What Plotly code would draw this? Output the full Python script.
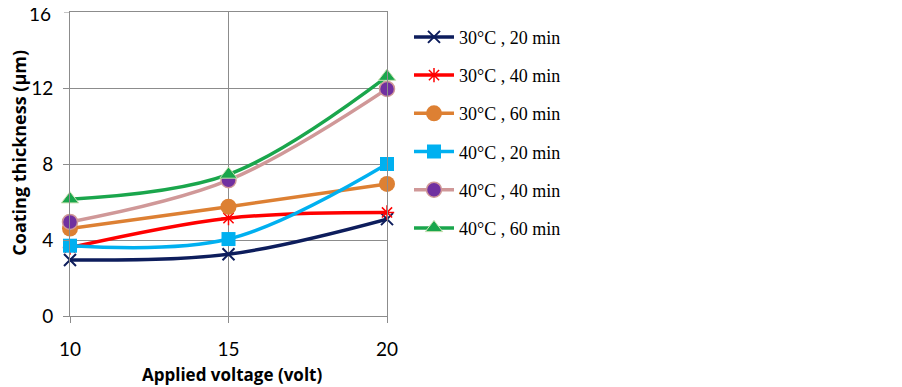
import plotly.graph_objects as go

voltage = [10, 15, 20]
names = ["30°C , 20 min", "30°C , 40 min", "30°C , 60 min",
         "40°C , 20 min", "40°C , 40 min", "40°C , 60 min"]
s_30_20 = [2.95, 3.25, 5.1]
s_30_40 = [3.6, 5.15, 5.45]
s_30_60 = [4.6, 5.75, 6.95]
s_40_20 = [3.7, 4.05, 8.0]
s_40_40 = [4.95, 7.15, 11.95]
s_40_60 = [6.15, 7.45, 12.6]
y_ticks = [0, 4, 8, 12, 16]
y_tick_text = ["0", "4", "8", "12", "16"]
x_ticks = [10, 15, 20]

series = [s_30_20, s_30_40, s_30_60, s_40_20, s_40_40, s_40_60]
styles = [
    dict(line="#0d1d5c", marker=dict(symbol="x-thin", size=12, line=dict(color="#0d1d5c", width=2), color="#0d1d5c")),
    dict(line="#ff0000", marker=dict(symbol="asterisk-open", size=12, line=dict(color="#ff0000", width=1.5), color="#ff0000")),
    dict(line="#dd8033", marker=dict(symbol="circle", size=16, color="#dd8033", line=dict(color="#dd8033", width=0))),
    dict(line="#00b0f0", marker=dict(symbol="square", size=14, color="#00b0f0", line=dict(color="#00b0f0", width=0))),
    dict(line="#d09898", marker=dict(symbol="circle", size=15, color="#7030a0", line=dict(color="#d09898", width=1.5))),
    dict(line="#1aa64c", marker=dict(symbol="triangle-up", size=15, color="#1aa64c", line=dict(color="#c8e0b0", width=1))),
]

fig = go.Figure()
for i, (name, vals, st) in enumerate(zip(names, series, styles)):
    fig.add_trace(go.Scatter(
        x=voltage, y=vals, name=name, mode="lines+markers", legendgroup="g%d" % i,
        line=dict(color=st["line"], width=3.5, shape="spline", smoothing=1),
        marker=st["marker"], cliponaxis=False,
    ))

# top tick label drawn as annotation so it is not dropped at the page edge
top_label = dict(text=y_tick_text[-1], xref="paper", yref="y", x=0, y=y_ticks[-1],
                 xanchor="right", yanchor="middle", xshift=-17, yshift=-1, showarrow=False,
                 font=dict(family="Lato", size=19, color="#000"))

fig.update_layout(
    width=902, height=387,
    margin=dict(l=62, r=523, t=4, b=79, autoexpand=False),
    paper_bgcolor="white", plot_bgcolor="white",
    showlegend=True,
    legend=dict(
        x=1.0694, y=0.978,
        xanchor="left", yanchor="top",
        font=dict(family="Liberation Serif", size=18, color="#000"),
        traceorder="grouped", tracegroupgap=11.8, itemwidth=40,
        bgcolor="rgba(0,0,0,0)",
    ),
    xaxis=dict(
        range=[10, 20], tickvals=x_ticks, showgrid=True, gridcolor="#8c8c8c", gridwidth=1,
        showline=True, mirror=True, linecolor="#8c8c8c", ticks="outside", ticklen=6, tickcolor="#8c8c8c",
        tickfont=dict(family="Lato", size=19, color="#000"), zeroline=False,
        ticklabelstandoff=10,
    ),
    yaxis=dict(
        range=[0, 16], tickvals=y_ticks[:-1], ticktext=y_tick_text[:-1],
        showgrid=True, gridcolor="#8c8c8c", gridwidth=1,
        showline=True, mirror=True, linecolor="#8c8c8c", ticks="outside", ticklen=6, tickcolor="#8c8c8c",
        tickfont=dict(family="Lato", size=19, color="#000"), zeroline=False,
        ticklabelstandoff=6,
    ),
    annotations=[
        dict(text="<b>Applied voltage (volt)</b>", xref="paper", yref="paper",
             x=0.511, y=-0.194, xanchor="center", yanchor="middle", showarrow=False,
             font=dict(family="Open Sans", size=17, color="#000")),
        dict(text="<b>Coating thickness (μm)</b>", xref="paper", yref="paper",
             x=-0.16, y=0.538, xanchor="center", yanchor="middle", showarrow=False,
             textangle=-90, font=dict(family="Open Sans", size=18, color="#000")),
        top_label,
    ],
    shapes=[dict(type="line", xref="paper", yref="y", x0=-6/317, x1=0, y0=16, y1=16,
                 line=dict(color="#8c8c8c", width=1))],
)
fig.write_html("out.html")
